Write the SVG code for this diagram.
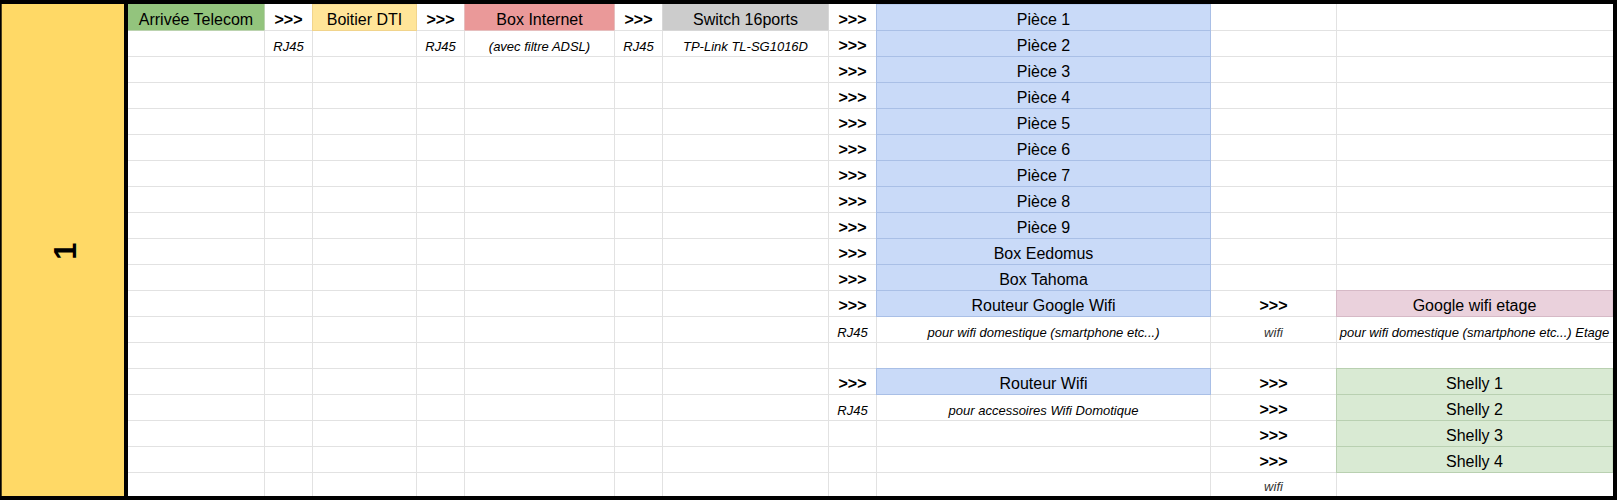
<svg xmlns="http://www.w3.org/2000/svg" width="1617" height="500" viewBox="0 0 1617 500">
<style>
.t{font-family:"Liberation Sans",Arial,sans-serif;font-size:16px;fill:#000;text-anchor:middle}
.c{font-family:"Liberation Sans",Arial,sans-serif;font-size:16px;font-weight:bold;fill:#000;text-anchor:middle}
.i{font-family:"Liberation Sans",Arial,sans-serif;font-size:13px;font-style:italic;fill:#000;text-anchor:middle}
.g{stroke:#e2e2e2;stroke-width:1;fill:none}
.blue{fill:#c9daf8;stroke:#a9bfe6;stroke-width:1}
.green{fill:#d9ead3;stroke:#b9d0b1;stroke-width:1}
.pink{fill:#ead1dc;stroke:#d6b9c6;stroke-width:1}
</style>
<rect width="1617" height="500" fill="#ffffff"/>
<g id="grid">
<path class="g" d="M264.5 4V496M312.5 4V496M416.5 4V496M464.5 4V496M614.5 4V496M662.5 4V496M828.5 4V496M876.5 4V496M1210.5 4V496M1336.5 4V496"/>
<path class="g" d="M128 30.5H1613M128 56.5H1613M128 82.5H1613M128 108.5H1613M128 134.5H1613M128 160.5H1613M128 186.5H1613M128 212.5H1613M128 238.5H1613M128 264.5H1613M128 290.5H1613M128 316.5H1613M128 342.5H1613M128 368.5H1613M128 394.5H1613M128 420.5H1613M128 446.5H1613M128 472.5H1613"/>
</g>
<g id="label-1">
<rect x="1" y="4" width="123" height="492" fill="#ffd966"/>
<text class="c" style="font-size:31px" transform="translate(76,251) rotate(-90)">1</text>
</g>
<g id="arrivee-telecom">
<rect x="128" y="4" width="136.5" height="26.5" fill="#93c47d"/>
<text class="t" x="196" y="24.5">Arrivée Telecom</text>
</g>
<g id="boitier-dti">
<rect x="312.5" y="4" width="104" height="26.5" fill="#ffe599" stroke="#f1d48c" stroke-width="1"/>
<text class="t" x="364.5" y="24.5">Boitier DTI</text>
</g>
<g id="box-internet">
<rect x="464.5" y="4" width="150" height="26.5" fill="#ea9999"/>
<text class="t" x="539.5" y="24.5">Box Internet</text>
<text class="i" x="539.5" y="50.5">(avec filtre ADSL)</text>
</g>
<g id="switch">
<rect x="662.5" y="4" width="166" height="26.5" fill="#cccccc"/>
<text class="t" x="745.5" y="24.5">Switch 16ports</text>
<text class="i" x="745.5" y="50.5">TP-Link TL-SG1016D</text>
</g>
<g id="pieces">
<rect class="blue" x="876.5" y="4" width="334" height="26.5"/>
<rect class="blue" x="876.5" y="30.5" width="334" height="26"/>
<rect class="blue" x="876.5" y="56.5" width="334" height="26"/>
<rect class="blue" x="876.5" y="82.5" width="334" height="26"/>
<rect class="blue" x="876.5" y="108.5" width="334" height="26"/>
<rect class="blue" x="876.5" y="134.5" width="334" height="26"/>
<rect class="blue" x="876.5" y="160.5" width="334" height="26"/>
<rect class="blue" x="876.5" y="186.5" width="334" height="26"/>
<rect class="blue" x="876.5" y="212.5" width="334" height="26"/>
<text class="t" x="1043.5" y="24.5">Pièce 1</text>
<text class="t" x="1043.5" y="50.5">Pièce 2</text>
<text class="t" x="1043.5" y="76.5">Pièce 3</text>
<text class="t" x="1043.5" y="102.5">Pièce 4</text>
<text class="t" x="1043.5" y="128.5">Pièce 5</text>
<text class="t" x="1043.5" y="154.5">Pièce 6</text>
<text class="t" x="1043.5" y="180.5">Pièce 7</text>
<text class="t" x="1043.5" y="206.5">Pièce 8</text>
<text class="t" x="1043.5" y="232.5">Pièce 9</text>
</g>
<g id="box-eedomus">
<rect class="blue" x="876.5" y="238.5" width="334" height="26"/>
<text class="t" x="1043.5" y="258.5">Box Eedomus</text>
</g>
<g id="box-tahoma">
<rect class="blue" x="876.5" y="264.5" width="334" height="26"/>
<text class="t" x="1043.5" y="284.5">Box Tahoma</text>
</g>
<g id="routeur-google-wifi">
<rect class="blue" x="876.5" y="290.5" width="334" height="26"/>
<text class="t" x="1043.5" y="310.5">Routeur Google Wifi</text>
<text class="i" x="1043.5" y="336.5">pour wifi domestique (smartphone etc...)</text>
</g>
<g id="google-wifi-etage">
<rect class="pink" x="1336.5" y="290.5" width="276.5" height="26"/>
<text class="t" x="1474.5" y="310.5">Google wifi etage</text>
<text class="i" x="1474.5" y="336.5">pour wifi domestique (smartphone etc...) Etage</text>
</g>
<g id="routeur-wifi">
<rect class="blue" x="876.5" y="368.5" width="334" height="26"/>
<text class="t" x="1043.5" y="388.5">Routeur Wifi</text>
<text class="i" x="1043.5" y="414.5">pour accessoires Wifi Domotique</text>
</g>
<g id="shellys">
<rect class="green" x="1336.5" y="368.5" width="276.5" height="26"/>
<rect class="green" x="1336.5" y="394.5" width="276.5" height="26"/>
<rect class="green" x="1336.5" y="420.5" width="276.5" height="26"/>
<rect class="green" x="1336.5" y="446.5" width="276.5" height="26"/>
<text class="t" x="1474.5" y="388.5">Shelly 1</text>
<text class="t" x="1474.5" y="414.5">Shelly 2</text>
<text class="t" x="1474.5" y="440.5">Shelly 3</text>
<text class="t" x="1474.5" y="466.5">Shelly 4</text>
</g>
<g id="connectors">
<text class="c" x="288.5" y="24.5">&gt;&gt;&gt;</text>
<text class="i" x="288.5" y="50.5">RJ45</text>
<text class="c" x="440.5" y="24.5">&gt;&gt;&gt;</text>
<text class="i" x="440.5" y="50.5">RJ45</text>
<text class="c" x="638.5" y="24.5">&gt;&gt;&gt;</text>
<text class="i" x="638.5" y="50.5">RJ45</text>
<text class="c" x="852.5" y="24.5">&gt;&gt;&gt;</text>
<text class="c" x="852.5" y="50.5">&gt;&gt;&gt;</text>
<text class="c" x="852.5" y="76.5">&gt;&gt;&gt;</text>
<text class="c" x="852.5" y="102.5">&gt;&gt;&gt;</text>
<text class="c" x="852.5" y="128.5">&gt;&gt;&gt;</text>
<text class="c" x="852.5" y="154.5">&gt;&gt;&gt;</text>
<text class="c" x="852.5" y="180.5">&gt;&gt;&gt;</text>
<text class="c" x="852.5" y="206.5">&gt;&gt;&gt;</text>
<text class="c" x="852.5" y="232.5">&gt;&gt;&gt;</text>
<text class="c" x="852.5" y="258.5">&gt;&gt;&gt;</text>
<text class="c" x="852.5" y="284.5">&gt;&gt;&gt;</text>
<text class="c" x="852.5" y="310.5">&gt;&gt;&gt;</text>
<text class="i" x="852.5" y="336.5">RJ45</text>
<text class="c" x="852.5" y="388.5">&gt;&gt;&gt;</text>
<text class="i" x="852.5" y="414.5">RJ45</text>
<text class="c" x="1273.5" y="310.5">&gt;&gt;&gt;</text>
<text class="i" x="1273.5" y="336.5" fill="#333" style="fill:#333">wifi</text>
<text class="c" x="1273.5" y="388.5">&gt;&gt;&gt;</text>
<text class="c" x="1273.5" y="414.5">&gt;&gt;&gt;</text>
<text class="c" x="1273.5" y="440.5">&gt;&gt;&gt;</text>
<text class="c" x="1273.5" y="466.5">&gt;&gt;&gt;</text>
<text class="i" x="1273.5" y="491" style="fill:#333">wifi</text>
</g>
<g id="frame" fill="#000">
<rect x="0" y="0" width="1617" height="4"/>
<rect x="0" y="496" width="1617" height="4"/>
<rect x="0" y="0" width="1.7" height="500"/>
<rect x="1613" y="0" width="4" height="500"/>
<rect x="124" y="0" width="4" height="500"/>
</g>
</svg>
